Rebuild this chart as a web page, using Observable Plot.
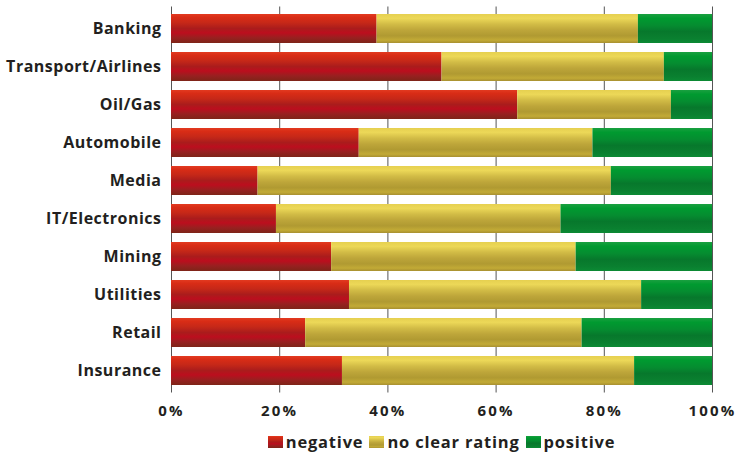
<!DOCTYPE html>
<html>
<head>
<meta charset="utf-8">
<script src="https://cdn.jsdelivr.net/npm/d3@7"></script>
<script src="https://cdn.jsdelivr.net/npm/@observablehq/plot@0.6"></script>
<style>
  html, body { margin: 0; padding: 0; background: #fff; }
  body { width: 735px; height: 453px; position: relative; overflow: hidden; font-family: "Open Sans", "DejaVu Sans", sans-serif; }
  #chart svg { display: block; overflow: visible; }
  #legend { position: absolute; left: 171px; width: 541px; top: 430px; display: flex; justify-content: center; align-items: center; font-weight: 700; font-size: 16.5px; color: #231f20; letter-spacing: 0.8px; }
  #legend .item { display: flex; align-items: center; margin: 0 3px; }
  #legend svg { margin-right: 3px; }
</style>
</head>
<body>
<div id="chart"></div>
<div id="legend"></div>
<script>
const categories = ["Banking", "Transport/Airlines", "Oil/Gas", "Automobile", "Media", "IT/Electronics", "Mining", "Utilities", "Retail", "Insurance"];
const seriesNames = ["negative", "no clear rating", "positive"];
const negative = [38, 50, 64, 34.7, 16, 19.4, 29.6, 32.9, 24.8, 31.6];
const noClear  = [48.3, 41.1, 28.4, 43.2, 65.3, 52.6, 45.2, 54, 51.1, 54];
const positive = [13.7, 8.9, 7.6, 22.1, 18.7, 28, 25.2, 13.1, 24.1, 14.4];
const xTicks = [0, 20, 40, 60, 80, 100];

const seriesValues = [negative, noClear, positive];
const data = [];
seriesNames.forEach((s, si) => {
  categories.forEach((c, ci) => data.push({category: c, series: s, value: seriesValues[si][ci]}));
});

const gradIds = ["gNeg", "gNeu", "gPos"];

const chart = Plot.plot({
  width: 735,
  height: 425,
  marginLeft: 171,
  marginRight: 23,
  marginTop: 6.5,
  marginBottom: 32.5,
  style: {fontFamily: "'Open Sans', 'DejaVu Sans', sans-serif", fontWeight: 700, color: "#231f20", background: "#fff"},
  x: {domain: [0, 100], ticks: xTicks, tickFormat: d => d + "%", tickSize: 0, label: null},
  y: {domain: categories, paddingInner: 0.235, paddingOuter: 0.1175, tickSize: 0, label: null},
  color: {domain: seriesNames, range: gradIds.map(id => `url(#${id})`)},
  marks: [
    Plot.ruleX(xTicks, {stroke: "#555", strokeWidth: 1}),
    Plot.barX(data, Plot.stackX({y: "category", x: "value", fill: "series", order: null})),
    Plot.axisX({ticks: xTicks, tickFormat: d => d + "%", tickSize: 0, tickPadding: 12, fontSize: 15, fontWeight: 700}),
    Plot.axisY({tickSize: 0, tickPadding: 10, fontSize: 16, fontWeight: 700})
  ]
});

document.getElementById("chart").appendChild(chart);

const svg = d3.select(chart);
const defs = svg.insert("defs", ":first-child");
function grad(id, stops) {
  const g = defs.append("linearGradient").attr("id", id).attr("x1", 0).attr("y1", 0).attr("x2", 0).attr("y2", 1);
  stops.forEach(([o, c]) => g.append("stop").attr("offset", o).attr("stop-color", c));
}
grad("gNeg", [[0, "#e23a20"], [0.12, "#d82c16"], [0.3, "#c62818"], [0.5, "#aa1c1c"], [0.65, "#bc0e1e"], [0.82, "#982020"], [1, "#7e2418"]]);
grad("gNeu", [[0, "#e6d050"], [0.15, "#ecd858"], [0.35, "#d2bc46"], [0.55, "#bea63a"], [0.75, "#b09a32"], [0.9, "#c2aa36"], [1, "#a89030"]]);
grad("gPos", [[0, "#1aa040"], [0.15, "#009a30"], [0.4, "#058c30"], [0.6, "#07782c"], [0.85, "#0a8030"], [1, "#0c8a34"]]);

svg.selectAll("[aria-label='x-axis tick label'] text").attr("letter-spacing", "2.2px");
svg.selectAll("[aria-label='y-axis tick label'] text").attr("letter-spacing", "0.5px");

const legend = d3.select("#legend");
seriesNames.forEach((s, i) => {
  const item = legend.append("div").attr("class", "item");
  const sw = item.append("svg").attr("width", 15).attr("height", 12);
  sw.append("rect").attr("width", 15).attr("height", 12).attr("fill", `url(#${gradIds[i]})`);
  item.append("span").text(s);
});
</script>
</body>
</html>
